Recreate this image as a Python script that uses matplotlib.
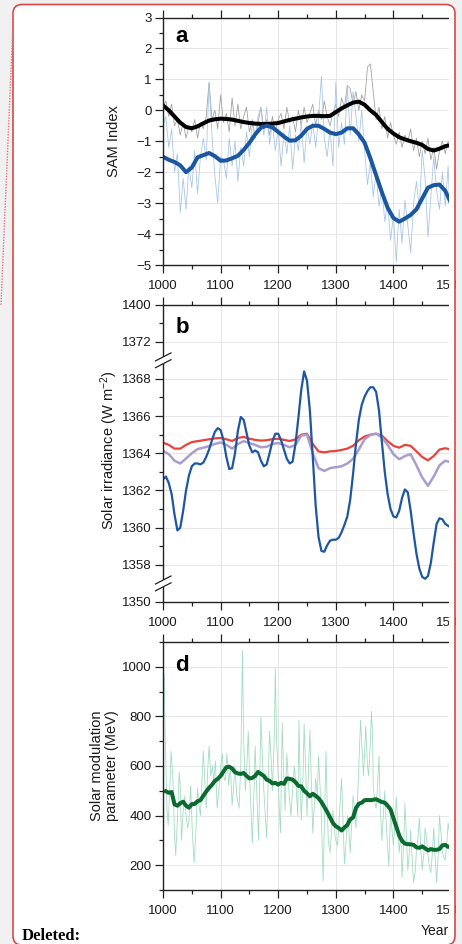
import matplotlib
matplotlib.use('Agg')
import matplotlib.pyplot as plt
import numpy as np
from matplotlib.patches import FancyBboxPatch, Rectangle
from matplotlib.ticker import MultipleLocator, FixedLocator

plt.rcParams['font.family'] = ['Liberation Sans', 'DejaVu Sans']
plt.rcParams['mathtext.fontset'] = 'custom'
plt.rcParams['mathtext.rm'] = 'Liberation Sans'
plt.rcParams['mathtext.it'] = 'Liberation Sans'
plt.rcParams['mathtext.bf'] = 'Liberation Sans:bold'

# ---------------- data ----------------
years5 = np.arange(1000, 1501, 5)
years10 = np.arange(1000, 1501, 10)

# Panel a: SAM index
sam_gray_annual = [0.1, 0.3, -0.2, 0.2, -0.5, -0.3, -0.8, -0.4, -0.9, -0.5,
                   -0.7, -0.3, -0.9, -0.4, -0.6, -0.2, 0.9, -0.3, 0.0, -0.6,
                   0.5, -0.4, -0.1, -0.7, 0.4, -0.5, 0.2, -0.6, -0.2, 0.1,
                   -0.7, -0.3, -0.9, -0.4, 0.1, -0.6, -0.3, -0.8, -0.2, -0.7,
                   -0.3, -0.1, -0.6, 0.1, -0.4, -0.2, -0.7, 0.0, -0.5, 0.1,
                   -0.4, -0.1, 0.2, -0.5, 0.0, -0.3, 0.3, -0.2, -0.5, -0.1,
                   0.2, -0.2, 0.4, 0.1, 0.8, 0.7, 0.2, 0.6, 0.0, 0.5,
                   0.3, 1.4, 1.5, 0.6, -0.3, 0.1, -0.6, -0.2, -0.9, -0.4,
                   -0.8, -1.1, -0.7, -1.2, -0.8, -1.0, -0.6, -1.3, -0.9, -1.5,
                   -1.0, -1.4, -0.9, -1.6, -1.2, -1.9, -1.3, -1.0, -1.4, -1.0,
                   -1.1]
sam_blue_annual = [-0.5, -0.2, -1.2, -0.6, -2.0, -1.4, -3.3, -2.2, -3.2, -1.8,
                   -2.5, -1.3, -2.7, -1.5, -0.9, -1.6, 0.9, -0.8, -2.1, -3.0,
                   -1.5, -1.6, -2.2, -0.9, -1.8, -1.0, -2.3, -1.2, -1.8, -0.7,
                   -1.5, -0.4, -0.9, -0.2, 0.1, -0.8, 0.1, -1.1, -0.4, -1.3,
                   -0.6, -1.8, -0.7, -1.4, -0.5, -1.9, -0.8, -1.3, -0.4, -1.7,
                   -0.5, -1.1, -0.4, -1.2, -0.3, 1.1, -0.9, -1.5, -0.6, -1.8,
                   0.9, -1.2, -0.4, -1.1, 0.8, -0.8, 0.6, -0.2, -1.0, 0.0,
                   -1.3, -2.4, -1.7, -2.8, -2.0, -3.1, -2.5, -3.6, -3.0, -4.2,
                   -3.4, -4.9, -3.2, -4.3, -2.9, -3.7, -4.6, -3.0, -2.3, -3.2,
                   -1.3, -2.2, -4.1, -2.8, -1.5, -2.6, -3.2, -2.0, -3.1, -1.8,
                   -4.1]
sam_black_smooth = [0.16, 0.0, -0.2, -0.4, -0.54, -0.58, -0.52, -0.42, -0.33, -0.29,
                    -0.27, -0.28, -0.3, -0.34, -0.38, -0.41, -0.43, -0.44, -0.44, -0.43,
                    -0.41, -0.36, -0.31, -0.27, -0.23, -0.2, -0.18, -0.18, -0.19, -0.18,
                    -0.06, 0.06, 0.16, 0.25, 0.28, 0.18, 0.0, -0.15, -0.38, -0.6,
                    -0.75, -0.87, -0.94, -1.0, -1.05, -1.12, -1.25, -1.3, -1.24, -1.16,
                    -1.12]
sam_blue_smooth = [-1.5, -1.6, -1.67, -1.78, -2.0, -1.85, -1.52, -1.45, -1.38, -1.48,
                   -1.63, -1.62, -1.55, -1.47, -1.28, -1.05, -0.78, -0.56, -0.5, -0.55,
                   -0.7, -0.85, -0.98, -0.97, -0.82, -0.6, -0.5, -0.5, -0.6, -0.72,
                   -0.77, -0.72, -0.58, -0.58, -0.78, -1.05, -1.55, -2.1, -2.65, -3.15,
                   -3.48, -3.6, -3.5, -3.38, -3.2, -2.85, -2.5, -2.42, -2.4, -2.6,
                   -3.0]

# Panel b: solar irradiance (W m-2)
tsi_blue = [1362.6, 1362.75, 1362.4, 1361.8, 1360.7, 1359.85, 1360.0, 1360.9, 1362.0, 1362.8,
            1363.3, 1363.45, 1363.45, 1363.4, 1363.5, 1363.8, 1364.2, 1364.7, 1365.15, 1365.35,
            1365.25, 1364.7, 1363.8, 1363.15, 1363.2, 1364.0, 1365.2, 1365.95, 1365.8, 1365.1,
            1364.4, 1364.05, 1364.15, 1364.05, 1363.6, 1363.3, 1363.4, 1364.0, 1364.65, 1365.05,
            1365.05, 1364.7, 1364.2, 1363.7, 1363.45, 1363.55, 1364.5, 1365.9, 1367.4, 1368.4,
            1367.9, 1366.3, 1363.8, 1361.2, 1359.5, 1358.75, 1358.7, 1359.05, 1359.3, 1359.35,
            1359.35, 1359.45, 1359.75, 1360.15, 1360.6, 1361.5, 1362.9, 1364.5, 1365.8, 1366.6,
            1367.05, 1367.35, 1367.55, 1367.55, 1367.3, 1366.3, 1364.6, 1363.0, 1361.8, 1361.0,
            1360.6, 1360.55, 1360.9, 1361.6, 1362.05, 1361.9, 1360.9, 1359.7, 1358.6, 1357.8,
            1357.35, 1357.25, 1357.4, 1358.1, 1359.2, 1360.2, 1360.5, 1360.45, 1360.2, 1360.1,
            1360.0]
tsi_red = [1364.57, 1364.45, 1364.25, 1364.25, 1364.45, 1364.6, 1364.65, 1364.7, 1364.75, 1364.8,
           1364.82, 1364.75, 1364.66, 1364.82, 1364.88, 1364.78, 1364.72, 1364.68, 1364.7, 1364.76,
           1364.78, 1364.72, 1364.66, 1364.75, 1365.0, 1365.05, 1364.5, 1364.1, 1364.05, 1364.1,
           1364.12, 1364.18, 1364.25, 1364.4, 1364.7, 1364.9, 1365.0, 1365.05, 1364.95, 1364.65,
           1364.4, 1364.3, 1364.45, 1364.4, 1364.1, 1363.8, 1363.62, 1363.85, 1364.2, 1364.27,
           1364.2]
tsi_purple = [1364.13, 1363.95, 1363.6, 1363.45, 1363.72, 1364.0, 1364.22, 1364.3, 1364.38, 1364.5,
              1364.58, 1364.45, 1364.25, 1364.5, 1364.65, 1364.55, 1364.45, 1364.32, 1364.35, 1364.5,
              1364.55, 1364.45, 1364.32, 1364.45, 1364.95, 1365.0, 1364.0, 1363.2, 1363.05, 1363.2,
              1363.25, 1363.3, 1363.45, 1363.7, 1364.2, 1364.75, 1364.98, 1365.05, 1364.85, 1364.45,
              1363.95, 1363.68, 1363.85, 1363.95, 1363.35, 1362.7, 1362.25, 1362.75, 1363.35, 1363.6,
              1363.5]
# broken axis: (shown label, axis position)
tsi_tick_labels = ['1350', '1358', '1360', '1362', '1364', '1366', '1368', '1372', '1400']
tsi_tick_pos = [1356, 1358, 1360, 1362, 1364, 1366, 1368, 1370, 1372]
tsi_minor_pos = [1359, 1361, 1363, 1365, 1367, 1371]
tsi_breaks = [1357, 1369]

# Panel d: solar modulation parameter (MeV)
phi_years = [1000, 1002, 1004, 1007, 1009, 1012, 1014, 1017, 1020, 1022, 1025, 1028, 1030, 1032, 1035,
             1038, 1040, 1043, 1045, 1048, 1051, 1054, 1057, 1060, 1062, 1065, 1068, 1070, 1073, 1075,
             1078, 1080, 1083, 1086, 1088, 1091, 1094, 1097, 1100, 1103, 1105, 1108, 1111, 1114, 1117,
             1120, 1123, 1125, 1128, 1132, 1135, 1138, 1140, 1143, 1146, 1148, 1151, 1155, 1158, 1160,
             1163, 1166, 1168, 1170, 1173, 1176, 1180, 1183, 1185, 1188, 1190, 1193, 1195, 1197, 1200,
             1202, 1204, 1207, 1209, 1212, 1215, 1218, 1222, 1225, 1228, 1231, 1234, 1236, 1238, 1240,
             1243, 1245, 1248, 1250, 1253, 1255, 1258, 1260, 1263, 1265, 1268, 1270, 1273, 1275, 1278,
             1280, 1283, 1285, 1287, 1290, 1293, 1295, 1298, 1300, 1303, 1305, 1308, 1310, 1313, 1315,
             1318, 1320, 1323, 1325, 1328, 1330, 1333, 1335, 1338, 1340, 1343, 1345, 1348, 1350, 1352,
             1355, 1357, 1360, 1362, 1364, 1365, 1368, 1370, 1372, 1375, 1377, 1380, 1383, 1385, 1388,
             1392, 1395, 1398, 1400, 1403, 1405, 1408, 1410, 1413, 1415, 1418, 1420, 1422, 1425, 1428,
             1430, 1432, 1435, 1438, 1440, 1443, 1445, 1448, 1450, 1453, 1455, 1458, 1460, 1462, 1465,
             1468, 1470, 1472, 1475, 1478, 1480, 1483, 1485, 1488, 1490, 1493, 1495, 1498, 1500]
phi_annual = [820, 970, 700, 420, 360, 520, 660, 560, 320, 240, 380, 575, 520, 300, 420,
              480, 400, 350, 380, 520, 330, 210, 330, 510, 450, 400, 560, 660, 520, 430,
              600, 680, 560, 600, 540, 620, 430, 500, 600, 650, 560, 540, 650, 520, 600,
              440, 530, 600, 480, 430, 600, 1065, 700, 500, 620, 740, 520, 290, 500, 680,
              480, 300, 560, 800, 600, 460, 310, 560, 740, 620, 500, 700, 995, 720, 560,
              420, 330, 775, 600, 420, 650, 520, 400, 500, 600, 520, 400, 785, 560, 380,
              550, 770, 560, 400, 600, 745, 500, 330, 450, 550, 480, 640, 500, 390, 135,
              350, 660, 450, 300, 250, 350, 420, 330, 300, 280, 350, 470, 550, 350, 205,
              300, 400, 330, 250, 380, 480, 420, 350, 480, 600, 785, 700, 560, 650, 760,
              600, 560, 700, 820, 700, 520, 450, 430, 500, 640, 450, 300, 420, 500, 350,
              195, 420, 330, 280, 380, 475, 340, 250, 330, 150, 300, 450, 350, 180, 260,
              340, 250, 130, 180, 260, 320, 390, 250, 180, 250, 350, 300, 240, 200, 170,
              260, 350, 250, 130, 250, 400, 320, 250, 230, 220, 300, 370, 320, 250]
phi_smooth_years = np.arange(1005, 1501, 5)
phi_smooth = [498, 492, 495, 445, 440, 450, 456, 440, 432, 446,
              447, 458, 462, 480, 497, 512, 524, 540, 548, 560,
              578, 595, 597, 590, 575, 570, 568, 572, 560, 550,
              552, 560, 576, 568, 560, 545, 540, 530, 532, 525,
              532, 528, 550, 548, 545, 535, 520, 518, 500, 490,
              478, 488, 480, 470, 455, 435, 415, 393, 370, 357,
              350, 340, 352, 362, 385, 392, 430, 448, 452, 462,
              463, 462, 464, 466, 460, 455, 452, 440, 425, 390,
              355, 320, 298, 287, 285, 284, 282, 272, 270, 276,
              268, 260, 265, 262, 262, 265, 280, 282, 274, 275]

# ---------------- figure ----------------
W, H = 462, 944
fig = plt.figure(figsize=(W / 100, H / 100), dpi=100, facecolor='#f0f0f0')


def px(x0, y0, x1, y1):
    return [x0 / W, 1 - y1 / H, (x1 - x0) / W, (y1 - y0) / H]


BOX = dict(xy=(13, 4.5), w=442, h=940.5)
bg = fig.add_axes([0, 0, 1, 1], zorder=-10)
bg.set_xlim(0, W); bg.set_ylim(H, 0); bg.axis('off')
bg.add_patch(FancyBboxPatch(BOX['xy'], BOX['w'], BOX['h'],
                            boxstyle='round,pad=0,rounding_size=9', fc='white', ec='none'))

SPC = '#222222'


def style(ax):
    ax.set_facecolor('white')
    ax.set_xlim(1000, 1500)
    ax.spines['right'].set_visible(False)
    for s in ['left', 'top', 'bottom']:
        ax.spines[s].set_linewidth(1.0)
        ax.spines[s].set_color(SPC)
    ax.xaxis.set_major_locator(MultipleLocator(100))
    ax.xaxis.set_minor_locator(MultipleLocator(50))
    ax.tick_params(which='both', direction='out', top=True, right=False,
                   colors=SPC, labelcolor='#1a1a1a', labelsize=9.5)
    ax.tick_params(which='major', length=5.5, width=0.9)
    ax.tick_params(which='minor', length=3.0, width=0.9)
    ax.tick_params(axis='x', pad=5)
    ax.tick_params(axis='y', pad=2.5)
    ax.grid(which='major', color='#e6e6e6', lw=0.7)
    ax.set_axisbelow(True)


# Panel a
axa = fig.add_axes(px(163, 17.5, 451, 265))
style(axa)
axa.set_ylim(-5, 3)
axa.yaxis.set_major_locator(MultipleLocator(1))
axa.yaxis.set_minor_locator(MultipleLocator(0.5))
axa.plot(years5, sam_gray_annual, color='#a3a3a3', lw=0.6)
axa.plot(years5, sam_blue_annual, color='#a9c7e6', lw=0.6)
axa.plot(years10, sam_black_smooth, color='black', lw=2.9, solid_capstyle='round')
axa.plot(years10, sam_blue_smooth, color='#1b57a1', lw=2.9, solid_capstyle='round')
axa.text(0.042, 0.902, 'a', transform=axa.transAxes, fontsize=16, fontweight='bold', va='baseline')

# Panel b
axb = fig.add_axes(px(163, 304.5, 451, 602))
style(axb)
axb.set_ylim(1356, 1372)
axb.set_yticks(tsi_tick_pos, tsi_tick_labels)
axb.yaxis.set_minor_locator(FixedLocator(tsi_minor_pos))
axb.plot(years10, tsi_red, color='#e8433b', lw=1.6)
axb.plot(years10, tsi_purple, color='#a99dcf', lw=1.8)
axb.plot(years5, tsi_blue, color='#1e56a2', lw=1.6)
axb.text(0.042, 0.904, 'b', transform=axb.transAxes, fontsize=16, fontweight='bold', va='baseline')
# axis-break marks
bt = matplotlib.transforms.blended_transform_factory(axb.transAxes, axb.transData)
ppx = 1 / 288.0           # axes fraction per pixel
ppy = 16.0 / 297.5        # data units per pixel
for yb in tsi_breaks:
    axb.add_patch(Rectangle((-2 * ppx, yb - 3.2 * ppy), 4 * ppx, 6.4 * ppy, transform=bt,
                            fc='white', ec='none', clip_on=False, zorder=5))
    for off in (-3.4, 3.4):
        axb.plot([-7.5 * ppx, 8 * ppx], [yb + (off - 4) * ppy * -1 * -1 + 0, yb + (off + 4) * ppy],
                 transform=bt, color=SPC, lw=0.9, clip_on=False, zorder=6) if False else None
        axb.plot([-7.5 * ppx, 8 * ppx], [yb + off * ppy - 4 * ppy, yb + off * ppy + 4 * ppy],
                 transform=bt, color=SPC, lw=0.9, clip_on=False, zorder=6)

# Panel d
axd = fig.add_axes(px(163, 642, 451, 890))
style(axd)
axd.set_ylim(100, 1100)
axd.yaxis.set_major_locator(FixedLocator([200, 400, 600, 800, 1000]))
axd.yaxis.set_minor_locator(MultipleLocator(100))
axd.plot(phi_years, phi_annual, color='#a3dcc4', lw=0.6)
axd.plot(phi_smooth_years, phi_smooth, color='#0b6a2f', lw=2.9, solid_joinstyle='round')
axd.text(0.042, 0.884, 'd', transform=axd.transAxes, fontsize=16, fontweight='bold', va='baseline')

# y-axis labels
def ftext(x, y, s, **kw):
    fig.text(x / W, 1 - y / H, s, **kw)

ftext(114.5, 141, 'SAM Index', rotation=90, ha='center', va='center', fontsize=10.5, color='#1a1a1a')
ftext(109, 450, r'Solar irradiance (W m$^{\mathregular{-2}}$)', rotation=90, ha='center', va='center',
      fontsize=10.5, color='#1a1a1a')
ftext(104.5, 766, 'Solar modulation\nparameter (MeV)', rotation=90, ha='center', va='center',
      fontsize=10.5, color='#1a1a1a', linespacing=1.15, multialignment='center')
ftext(435, 935, 'Year', ha='center', va='baseline', fontsize=10, color='#1a1a1a')
ftext(22, 940, 'Deleted:', ha='left', va='baseline', fontsize=12, fontweight='bold',
      family=['Liberation Serif', 'DejaVu Serif'], color='black')

# overlay: clip strip, box outline, comment connector
ov = fig.add_axes([0, 0, 1, 1], zorder=10)
ov.set_xlim(0, W); ov.set_ylim(H, 0); ov.axis('off'); ov.patch.set_alpha(0)
ov.add_patch(Rectangle((448.5, 5), 6, 940, fc='white', ec='none'))
ov.add_patch(Rectangle((456, 0), 6, H, fc='#f0f0f0', ec='none'))
ov.add_patch(FancyBboxPatch(BOX['xy'], BOX['w'], BOX['h'],
                            boxstyle='round,pad=0,rounding_size=9', fill=False,
                            ec='#d84848', lw=1.2))
ov.plot([13.5, 1.0], [12, 305], color='#e07575', lw=1.0, ls=(0, (1, 1)))

fig.savefig('out.png', dpi=100, facecolor=fig.get_facecolor())
